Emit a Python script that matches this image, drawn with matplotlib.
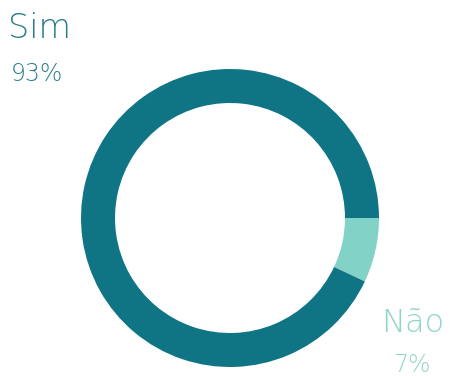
import matplotlib.pyplot as plt

# Survey answers (percent)
labels = ["Não", "Sim"]
values = [7, 93]
colors = ["#83d2c8", "#0f7585"]

fig = plt.figure(figsize=(4.52, 3.76), dpi=100)
ax = fig.add_axes([0, 0, 1, 1])

# Donut, starting at 3 o'clock and running clockwise on screen
# (y axis is flipped below, so counterclock=True reads clockwise)
ax.pie(values, colors=colors, startangle=0, counterclock=True,
       center=(230, 218), radius=149,
       wedgeprops=dict(width=34, edgecolor="none"))

ax.set_xlim(0, 452)
ax.set_ylim(376, 0)
ax.set_aspect("equal")
ax.axis("off")

font = dict(family="DejaVu Sans", weight="light", va="baseline", ha="left")

# Labels: category name above, percent below
ax.text(8, 38, labels[1], fontsize=24, color="#2a7d88", **font)
ax.text(11, 81, f"{values[1]}%", fontsize=17, color="#2a7d88", **font)
ax.text(381, 332, labels[0], fontsize=23, color="#8fd4cb", **font)
ax.text(393, 372, f"{values[0]}%", fontsize=17, color="#8fd4cb", **font)

fig.savefig("out.png", dpi=100)
